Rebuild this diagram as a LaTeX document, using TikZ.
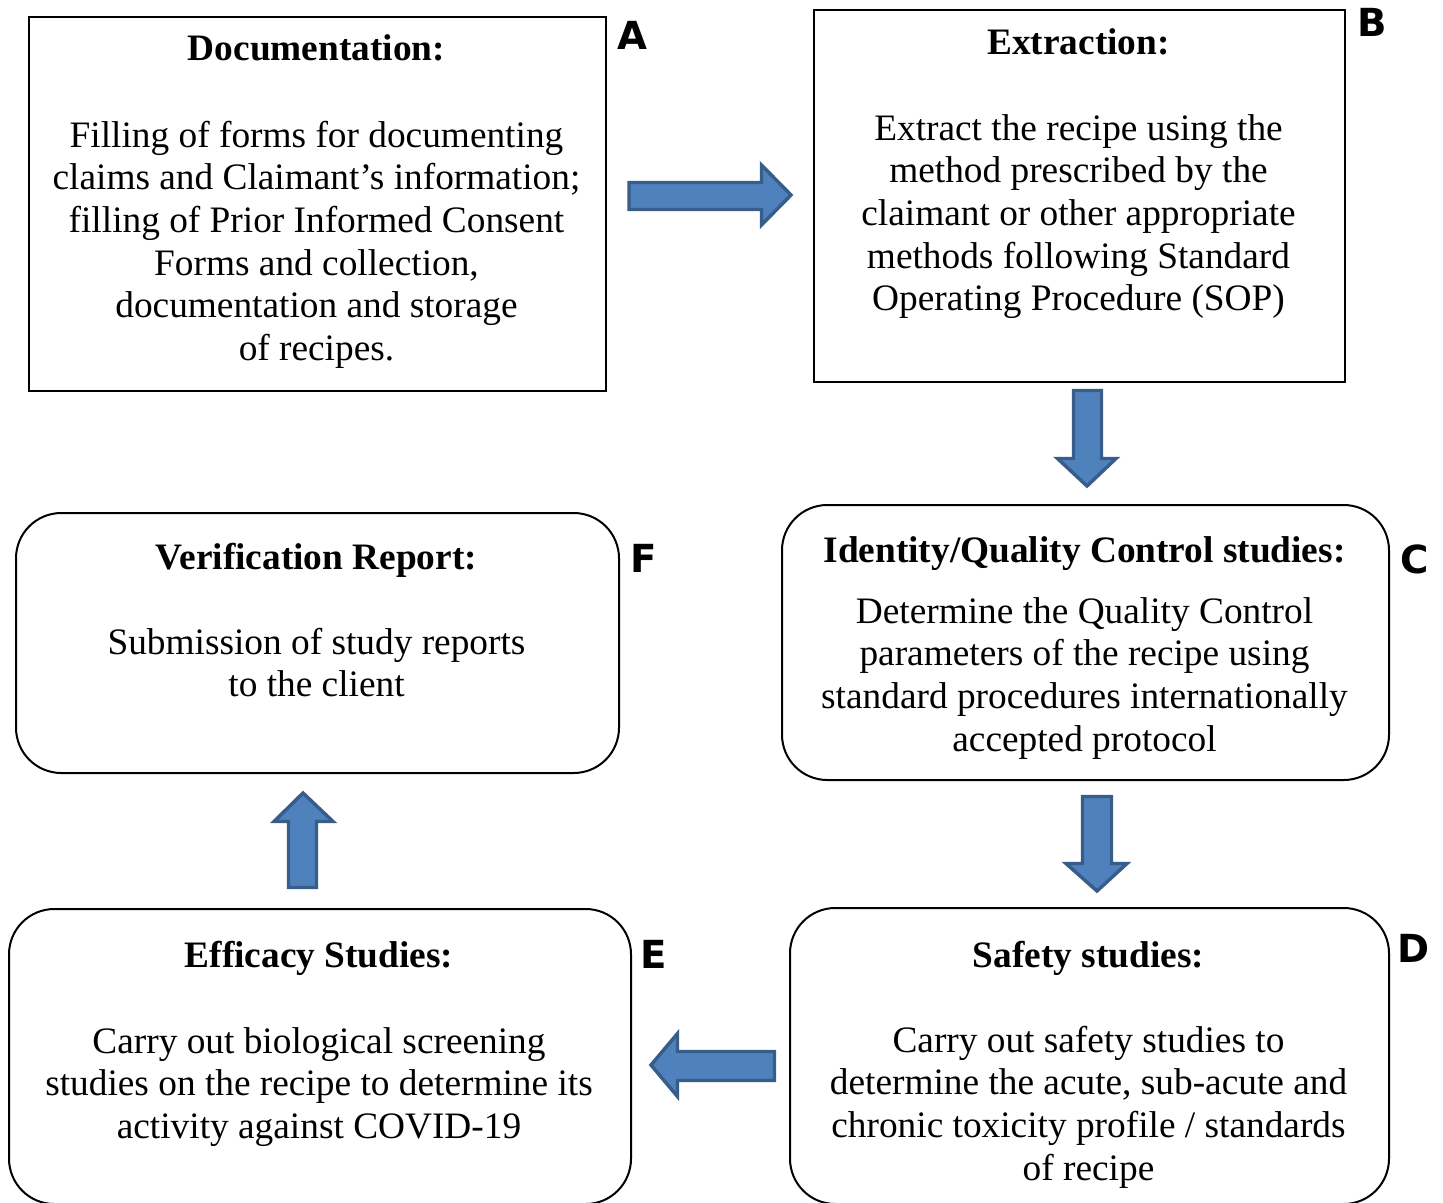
\documentclass[tikz,border=0pt]{standalone}
\usepackage{fontspec}
\setmainfont{Liberation Serif}
\newfontfamily\tagfont{DejaVu Sans}
\definecolor{arrfill}{HTML}{4F81BD}
\definecolor{arredge}{HTML}{385D8A}
\tikzset{
  sqbox/.style={draw, line width=1.8pt, inner sep=0, anchor=north west},
  rbox/.style={draw, line width=1.5pt, inner sep=0, anchor=north west, rounded corners=34pt},
  title/.style={font=\fontsize{28}{32}\selectfont\bfseries, anchor=base, inner sep=0},
  body/.style={font=\fontsize{28}{32}\selectfont, align=center, anchor=north, inner sep=0},
  tag/.style={font=\tagfont\bfseries\fontsize{29}{30}\selectfont, anchor=base west, inner sep=0},
  blockarrow/.style={fill=arrfill, draw=arredge, line width=2.6pt, line join=miter}
}
\begin{document}
\begin{tikzpicture}[x=0.75pt, y=-0.75pt]
\useasboundingbox (0,0) rectangle (1443,1203);
\clip (0,0) rectangle (1443,1203);
% boxes
\node[sqbox, minimum width={577*0.75pt}, minimum height={374*0.75pt}] (A) at (28,16) {};
\node[sqbox, minimum width={531*0.75pt}, minimum height={372*0.75pt}] (B) at (813,9) {};
\node[rbox, minimum width={607*0.75pt}, minimum height={275*0.75pt}] (C) at (781,504) {};
\node[rbox, minimum width={599*0.75pt}, minimum height={296*0.75pt}] (D) at (789,907) {};
\node[rbox, minimum width={622*0.75pt}, minimum height={295*0.75pt}] (E) at (8,908) {};
\node[rbox, minimum width={603*0.75pt}, minimum height={260*0.75pt}] (F) at (15,512) {};
% titles
\node[title] (Ath) at (316.5,60) {Documentation:};
\node[title] (Bth) at (1078.5,54) {Extraction:};
\node[title] (Cth) at (1084.5,562) {Identity/Quality Control studies:};
\node[title] (Dth) at (1088.5,967) {Safety studies:};
\node[title] (Eth) at (319,967) {Efficacy Studies:};
\node[title] (Fth) at (316.5,569) {Verification Report:};
% bodies
\node[body] (Ab) at (316.5,117.1) {\strut Filling of forms for documenting\\claims and Claimant’s information;\\filling of Prior Informed Consent\\Forms and collection,\\documentation and storage\\of recipes.};
\node[body] (Bb) at (1078.5,110.1) {\strut Extract the recipe using the\\method prescribed by the\\claimant or other appropriate\\methods following Standard\\Operating Procedure (SOP)};
\node[body] (Cb) at (1084.5,593.1) {\strut Determine the Quality Control\\parameters of the recipe using\\standard procedures internationally\\accepted protocol};
\node[body] (Db) at (1088.5,1022.1) {\strut Carry out safety studies to\\determine the acute, sub-acute and\\chronic toxicity profile / standards\\of recipe};
\node[body] (Eb) at (319,1023.1) {\strut Carry out biological screening\\studies on the recipe to determine its\\activity against COVID-19};
\node[body] (Fb) at (316.5,624.1) {\strut Submission of study reports\\to the client};
% tags
\node[tag] (At) at (617,49) {A};
\node[tag] (Bt) at (1357,36) {B};
\node[tag] (Ct) at (1400,573) {C};
\node[tag] (Dt) at (1397,962) {D};
\node[tag] (Et) at (640,968) {E};
\node[tag] (Ft) at (630,572) {F};
% block arrows
\draw[blockarrow] (629,182.5) -- (761.5,182.5) -- (761.5,165) -- (791,195) -- (761.5,225) -- (761.5,209.5) -- (629,209.5) -- cycle;
\draw[blockarrow] (1073.5,390.5) -- (1101.5,390.5) -- (1101.5,458.5) -- (1116,458.5) -- (1087,486) -- (1057.5,458.5) -- (1073.5,458.5) -- cycle;
\draw[blockarrow] (1082.5,796.5) -- (1111.5,796.5) -- (1111.5,863.5) -- (1127,863.5) -- (1097,891) -- (1066,863.5) -- (1082.5,863.5) -- cycle;
\draw[blockarrow] (774.5,1051.5) -- (677.5,1051.5) -- (677.5,1033.5) -- (651,1065) -- (677.5,1096.5) -- (677.5,1080.5) -- (774.5,1080.5) -- cycle;
\draw[blockarrow] (288.5,887.5) -- (288.5,821.5) -- (274,821.5) -- (303,793) -- (333,821.5) -- (316.5,821.5) -- (316.5,887.5) -- cycle;
\end{tikzpicture}
\end{document}
